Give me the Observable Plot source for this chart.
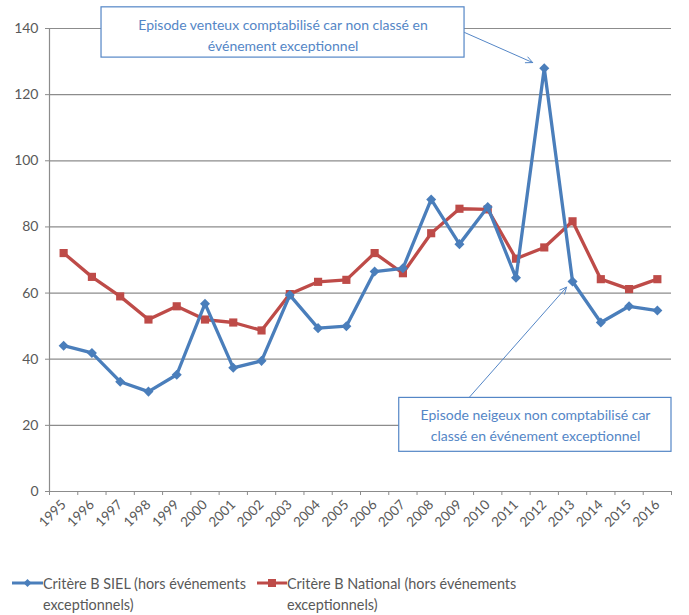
<!DOCTYPE html>
<html><head><meta charset="utf-8">
<script src="https://cdn.jsdelivr.net/npm/d3@7"></script>
<script src="https://cdn.jsdelivr.net/npm/@observablehq/plot@0.6"></script>
<style>
html,body{margin:0;padding:0;background:#fff}
body{width:689px;height:615px;overflow:hidden;position:relative;font-family:Lato,sans-serif}
#chart{position:absolute;left:0;top:0}
.item{position:absolute;top:572px;font-family:Lato,sans-serif;font-size:16px;line-height:21px;color:#595959}
.item svg{position:absolute;top:6px}
.item .txt{transform:scaleX(0.9);transform-origin:left top;white-space:nowrap}
</style></head><body>
<div id="chart"></div>
<div id="legend"></div>
<script>
const years = [1995,1996,1997,1998,1999,2000,2001,2002,2003,2004,2005,2006,2007,2008,2009,2010,2011,2012,2013,2014,2015,2016];
const siel = [44.1,41.9,33.2,30.2,35.3,56.8,37.4,39.5,59.4,49.4,50.0,66.5,67.5,88.3,74.8,86.0,64.6,128.0,63.5,51.1,56.0,54.7];
const national = [72.1,64.9,59.0,52.0,56.0,52.0,51.1,48.7,59.7,63.4,64.0,72.1,66.0,78.1,85.5,85.3,70.4,73.8,81.7,64.2,61.2,64.2];
const yTicks = [0,20,40,60,80,100,120,140];
const seriesLabels = ["Critère B SIEL (hors événements", "exceptionnels)", "Critère B National (hors événements", "exceptionnels)"];
const annotationBoxes = [
  {x1:1996.34, x2:2009.18, y1:131.2, y2:146.4},
  {x1:2006.87, x2:2016.5, y1:12.0, y2:28.3}
];
const annotationTexts = [
  {x:2002.76, y:140.9, text:"Episode venteux comptabilisé car non classé en"},
  {x:2002.76, y:134.6, text:"événement exceptionnel"},
  {x:2011.69, y:23.0, text:"Episode neigeux non comptabilisé car"},
  {x:2011.69, y:16.7, text:"classé en événement exceptionnel"}
];
const annotationArrows = [
  {x1:2009.18, y1:138.8, x2:2011.59, y2:129.7},
  {x1:2009.33, y1:28.3, x2:2012.79, y2:61.8}
];

const BLUE = "#4a7ebb", RED = "#be4b48", GRID = "#8c8c8c", LABEL = "#595959", ANN = "#5486c6";
const sielData = years.map((y,i)=>({year:y, value:siel[i]}));
const natData = years.map((y,i)=>({year:y, value:national[i]}));
const bounds = years.map(y=>y-0.5).concat([years[years.length-1]+0.5]);

const chart = Plot.plot({
  width: 689, height: 555,
  marginLeft: 49, marginRight: 18, marginTop: 28, marginBottom: 64,
  x: {domain:[bounds[0], bounds[bounds.length-1]], axis:null},
  y: {domain:[0,140], axis:null},
  style: {fontFamily:"Lato, sans-serif", background:"#fff"},
  marks: [
    Plot.gridY(yTicks, {stroke:GRID, strokeOpacity:1, strokeWidth:1.2}),
    Plot.ruleX([bounds[0]], {stroke:GRID, strokeWidth:1.2}),
    Plot.axisY({ticks:yTicks, tickSize:4, tickPadding:7, fontSize:14, color:LABEL, stroke:GRID}),
    Plot.axisX({ticks:bounds, tickSize:4, tickFormat:()=>"", stroke:GRID}),
    Plot.axisX({ticks:years, tickSize:0, tickPadding:11, tickRotate:-45, fontSize:13.5, color:LABEL, tickFormat:d=>String(d)}),
    Plot.line(natData, {x:"year", y:"value", stroke:RED, strokeWidth:3.3}),
    Plot.dot(natData, {x:"year", y:"value", symbol:"square", r:4.6, fill:RED, stroke:null}),
    Plot.line(sielData, {x:"year", y:"value", stroke:BLUE, strokeWidth:3.3}),
    Plot.dot(sielData, {x:"year", y:"value", symbol:"square", rotate:45, r:4, fill:BLUE, stroke:null}),
    Plot.arrow(annotationArrows, {x1:"x1", y1:"y1", x2:"x2", y2:"y2", stroke:ANN, strokeWidth:1, headLength:11, headAngle:50}),
    Plot.rect(annotationBoxes, {x1:"x1", x2:"x2", y1:"y1", y2:"y2", fill:"#fff", stroke:ANN, strokeWidth:1.2}),
    Plot.text(annotationTexts, {x:"x", y:"y", text:"text", fill:ANN, fontSize:14, textAnchor:"middle"})
  ]
});
document.getElementById("chart").appendChild(chart);

const legend = document.getElementById("legend");
const items = [
  {color:BLUE, left:12, width:31, lines:[seriesLabels[0], seriesLabels[1]], marker:"diamond"},
  {color:RED, left:257, width:30, lines:[seriesLabels[2], seriesLabels[3]], marker:"square"}
];
items.forEach(it=>{
  const d = document.createElement("div");
  d.className = "item";
  d.style.left = it.left + "px";
  const w = it.width, c = w/2;
  const m = it.marker === "diamond"
    ? `<path d="M${c},1 L${c+4},5 L${c},9 L${c-4},5 Z" fill="${it.color}"/>`
    : `<rect x="${c-4}" y="1" width="8" height="8" fill="${it.color}"/>`;
  d.innerHTML = `<svg width="${w}" height="10" style="left:0"><line x1="0" x2="${w}" y1="5" y2="5" stroke="${it.color}" stroke-width="3"/>${m}</svg><div class="txt" style="margin-left:${w}px">${it.lines[0]}<br>${it.lines[1]}</div>`;
  legend.appendChild(d);
});
</script>
</body></html>
